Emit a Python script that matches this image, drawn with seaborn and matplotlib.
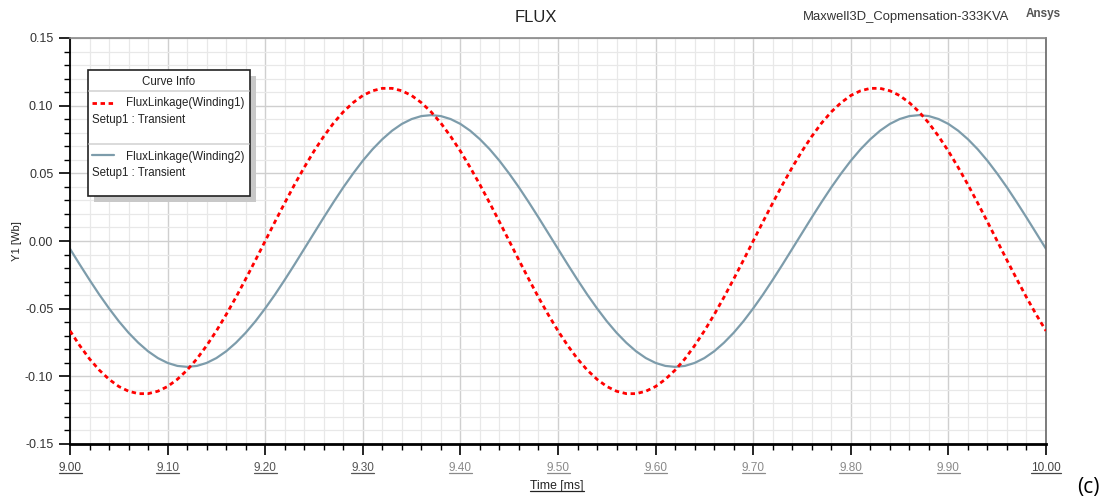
import numpy as np
import pandas as pd
import matplotlib.pyplot as plt
import seaborn as sns
from matplotlib.patches import Rectangle
from matplotlib.lines import Line2D
from matplotlib.ticker import MultipleLocator

time_ms = [round(9.00 + 0.01 * i, 2) for i in range(101)]

# FluxLinkage(Winding1) [Wb]
flux_w1 = [-0.0664, -0.0773, -0.0871, -0.0954, -0.1022, -0.1075, -0.1110, -0.1128, -0.1128, -0.1110,
           -0.1075, -0.1022, -0.0954, -0.0871, -0.0773, -0.0664, -0.0544, -0.0416, -0.0281, -0.0142,
           0.0000, 0.0142, 0.0281, 0.0416, 0.0544, 0.0664, 0.0773, 0.0871, 0.0954, 0.1022,
           0.1075, 0.1110, 0.1128, 0.1128, 0.1110, 0.1075, 0.1022, 0.0954, 0.0871, 0.0773,
           0.0664, 0.0544, 0.0416, 0.0281, 0.0142, 0.0000, -0.0142, -0.0281, -0.0416, -0.0544,
           -0.0664, -0.0773, -0.0871, -0.0954, -0.1022, -0.1075, -0.1110, -0.1128, -0.1128, -0.1110,
           -0.1075, -0.1022, -0.0954, -0.0871, -0.0773, -0.0664, -0.0544, -0.0416, -0.0281, -0.0142,
           0.0000, 0.0142, 0.0281, 0.0416, 0.0544, 0.0664, 0.0773, 0.0871, 0.0954, 0.1022,
           0.1075, 0.1110, 0.1128, 0.1128, 0.1110, 0.1075, 0.1022, 0.0954, 0.0871, 0.0773,
           0.0664, 0.0544, 0.0416, 0.0281, 0.0142, 0.0000, -0.0142, -0.0281, -0.0416, -0.0544,
           -0.0664]

# FluxLinkage(Winding2) [Wb]
flux_w2 = [-0.0058, -0.0174, -0.0287, -0.0396, -0.0498, -0.0593, -0.0678, -0.0752, -0.0815, -0.0865,
           -0.0901, -0.0923, -0.0930, -0.0923, -0.0901, -0.0865, -0.0815, -0.0752, -0.0678, -0.0593,
           -0.0498, -0.0396, -0.0287, -0.0174, -0.0058, 0.0058, 0.0174, 0.0287, 0.0396, 0.0498,
           0.0593, 0.0678, 0.0752, 0.0815, 0.0865, 0.0901, 0.0923, 0.0930, 0.0923, 0.0901,
           0.0865, 0.0815, 0.0752, 0.0678, 0.0593, 0.0498, 0.0396, 0.0287, 0.0174, 0.0058,
           -0.0058, -0.0174, -0.0287, -0.0396, -0.0498, -0.0593, -0.0678, -0.0752, -0.0815, -0.0865,
           -0.0901, -0.0923, -0.0930, -0.0923, -0.0901, -0.0865, -0.0815, -0.0752, -0.0678, -0.0593,
           -0.0498, -0.0396, -0.0287, -0.0174, -0.0058, 0.0058, 0.0174, 0.0287, 0.0396, 0.0498,
           0.0593, 0.0678, 0.0752, 0.0815, 0.0865, 0.0901, 0.0923, 0.0930, 0.0923, 0.0901,
           0.0865, 0.0815, 0.0752, 0.0678, 0.0593, 0.0498, 0.0396, 0.0287, 0.0174, 0.0058,
           -0.0058]

x_ticks = [9.00, 9.10, 9.20, 9.30, 9.40, 9.50, 9.60, 9.70, 9.80, 9.90, 10.00]
x_tick_labels = ['9.00', '9.10', '9.20', '9.30', '9.40', '9.50', '9.60', '9.70', '9.80', '9.90', '10.00']

red = '#ff0000'
steel = '#7d9cab'

sns.set_style('white')
plt.rcParams['font.family'] = ['Liberation Sans', 'DejaVu Sans']

df = pd.DataFrame({'time': time_ms, 'w1': flux_w1, 'w2': flux_w2})

W, H = 1102, 503
fig = plt.figure(figsize=(W / 100, H / 100), dpi=100)
# axes box in pixels: x 70..1046, y 38..444
ax = fig.add_axes([70 / W, 1 - 444 / H, (1046 - 70) / W, (444 - 38) / H])

# grid
ax.xaxis.set_major_locator(MultipleLocator(0.1))
ax.xaxis.set_minor_locator(MultipleLocator(0.02))
ax.yaxis.set_major_locator(MultipleLocator(0.05))
ax.yaxis.set_minor_locator(MultipleLocator(0.01))
ax.grid(which='minor', color='#e8e8e8', linewidth=0.9, zorder=0)
ax.grid(which='major', color='#cfcfcf', linewidth=1.0, zorder=0)
ax.set_axisbelow(True)

sns.lineplot(data=df, x='time', y='w1', ax=ax, color=red, linewidth=2.0, zorder=3)
ax.lines[-1].set_dashes((1.6, 1.3))
sns.lineplot(data=df, x='time', y='w2', ax=ax, color=steel, linewidth=1.6, zorder=2)

ax.set_xlim(9.0, 10.0)
ax.set_ylim(-0.15, 0.15)

ax.set_xticks(x_ticks)
ax.set_xticklabels(x_tick_labels, fontsize=8.5)
for i, lab in enumerate(ax.get_xticklabels()):
    if i in (0, 10):
        lab.set_color('#444444')
    elif i <= 3:
        lab.set_color('#555555')
    else:
        lab.set_color('#8a8a8a')
ax.set_yticks([-0.15, -0.10, -0.05, 0.00, 0.05, 0.10, 0.15])
ax.set_yticklabels(['-0.15', '-0.10', '-0.05', '0.00', '0.05', '0.10', '0.15'],
                   fontsize=9, color='#333333')

ax.tick_params(which='major', direction='out', length=8, width=1.2, color='black', pad=4)
ax.tick_params(which='minor', direction='out', length=4, width=1.0, color='black')
ax.tick_params(axis='x', which='major', pad=5)
ax.tick_params(axis='x', which='both', bottom=True)
ax.tick_params(axis='y', which='both', left=True)

ax.spines['left'].set_color('black')
ax.spines['left'].set_linewidth(1.3)
ax.spines['bottom'].set_color('black')
ax.spines['bottom'].set_linewidth(2.0)
ax.spines['top'].set_color('#888888')
ax.spines['top'].set_linewidth(1.2)
ax.spines['right'].set_color('#666666')
ax.spines['right'].set_linewidth(1.2)

ax.set_xlabel('')
ax.set_ylabel('')

# texts
fig.text(536 / W, 1 - 18 / H, 'FLUX', ha='center', va='center', fontsize=12, color='#222222')
fig.text(906 / W, 1 - 17 / H, 'Maxwell3D_Copmensation-333KVA', ha='center', va='center',
         fontsize=9.4, color='#333333')
fig.text(1043 / W, 1 - 14 / H, 'Ansys', ha='center', va='center', fontsize=8.5,
         fontweight='bold', color='#555555')
xlab = fig.text(557 / W, 1 - 486 / H, 'Time [ms]', ha='center', va='center',
                fontsize=8.8, color='#222222')
fig.text(17 / W, 1 - 241 / H, 'Y1 [Wb]', ha='center', va='center', rotation=90,
         fontsize=8, color='#222222')
fig.text(1088 / W, 1 - 488 / H, '(c)', ha='center', va='center', fontsize=15,
         family=['Open Sans', 'DejaVu Sans'], color='black')

# "Curve Info" box (pixel coordinates)
def px(x, y):
    return x / W, 1 - y / H

bx0, by0, bx1, by1 = 88, 70, 250, 196
shadow = Rectangle(px(bx0 + 6, by1 + 6), (bx1 - bx0) / W, (by1 - by0) / H,
                   transform=fig.transFigure, facecolor='#c8c8c8', edgecolor='none', zorder=9)
box = Rectangle(px(bx0, by1), (bx1 - bx0) / W, (by1 - by0) / H,
                transform=fig.transFigure, facecolor='white', edgecolor='#222222',
                linewidth=1.2, zorder=10)
fig.patches.extend([shadow, box])
for yy in (91, 144):
    fig.lines.append(Line2D([px(bx0 + 1, 0)[0], px(bx1 - 1, 0)[0]], [px(0, yy)[1]] * 2,
                            transform=fig.transFigure, color='#d4d4d4', linewidth=1.2, zorder=11))
fig.lines.append(Line2D([px(92, 0)[0], px(114, 0)[0]], [px(0, 103)[1]] * 2,
                        transform=fig.transFigure, color=red, linewidth=2.0,
                        dashes=(1.6, 1.3), zorder=11))
fig.lines.append(Line2D([px(92, 0)[0], px(114, 0)[0]], [px(0, 155)[1]] * 2,
                        transform=fig.transFigure, color=steel, linewidth=1.6, zorder=11))
legend_txt = [
    (169, 82, 'Curve Info', 'center'),
    (126, 103, 'FluxLinkage(Winding1)', 'left'),
    (92, 120, 'Setup1 : Transient', 'left'),
    (126, 157, 'FluxLinkage(Winding2)', 'left'),
    (92, 173, 'Setup1 : Transient', 'left'),
]
for x, y, t, ha in legend_txt:
    fig.text(*px(x, y), t, ha=ha, va='center', fontsize=8.3, color='#222222', zorder=12)

# underline the x tick labels and the x label
fig.canvas.draw()
renderer = fig.canvas.get_renderer()
for t in list(ax.get_xticklabels()) + [xlab]:
    bb = t.get_window_extent(renderer)
    yline = bb.y0 + 1
    fig.lines.append(Line2D([bb.x0 / W, bb.x1 / W], [yline / H] * 2,
                            transform=fig.transFigure, color=t.get_color(), linewidth=0.9))

fig.savefig('out.png', dpi=100)
